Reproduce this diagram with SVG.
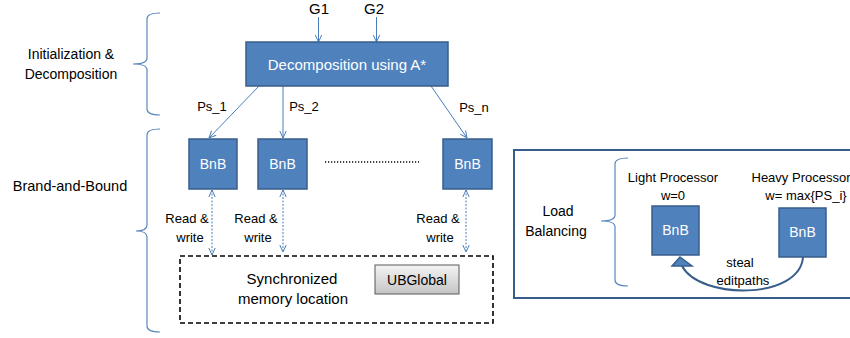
<svg xmlns="http://www.w3.org/2000/svg" width="850" height="338" viewBox="0 0 850 338">
<style>
.t{font-family:"Liberation Sans",Arial,sans-serif;fill:#000;}
.w{font-family:"Liberation Sans",Arial,sans-serif;fill:#fff;}
.box{fill:#4f81bd;stroke:#385d8a;stroke-width:1.5;}
.con{fill:none;stroke:#4a7ebb;stroke-width:1;}
.rw{fill:none;stroke:#4a7ebb;stroke-width:1;stroke-dasharray:2,1.5;}
.brace{fill:none;stroke:#5b87c0;stroke-width:1.2;}
</style>
<defs>
<marker id="v" viewBox="0 0 8 8" refX="7.5" refY="4" markerWidth="8" markerHeight="8" markerUnits="userSpaceOnUse" orient="auto-start-reverse">
<path d="M0.5,0.8 L7.5,4 L0.5,7.2" fill="none" stroke="#4a7ebb" stroke-width="1"/>
</marker>
<linearGradient id="gray" x1="0" y1="0" x2="0" y2="1">
<stop offset="0" stop-color="#f4f4f4"/>
<stop offset="1" stop-color="#c4c4c4"/>
</linearGradient>
</defs>
<rect width="850" height="338" fill="#fff"/>

<g id="braces">
<path class="brace" d="M160,13 Q147,13 147,19 L147,58 Q147,64 133,64 Q147,64 147,70 L147,109 Q147,115 160,115"/>
<path class="brace" d="M160,129 Q147,129 147,135 L147,225 Q147,231 136,231 Q147,231 147,237 L147,326 Q147,332 160,332"/>
</g>
<g id="stage-labels">
<text class="t" x="71" y="59" font-size="14" text-anchor="middle">Initialization &amp;</text>
<text class="t" x="71" y="79" font-size="14" text-anchor="middle">Decomposition</text>
<text class="t" x="70" y="191" font-size="14.5" text-anchor="middle">Brand-and-Bound</text>
</g>

<g id="connectors">
<line class="con" x1="318.5" y1="17" x2="318.5" y2="42" marker-end="url(#v)"/>
<line class="con" x1="376.5" y1="17" x2="376.5" y2="42" marker-end="url(#v)"/>
<line class="con" x1="259" y1="86" x2="209" y2="138" marker-end="url(#v)"/>
<line class="con" x1="283" y1="86" x2="283" y2="138" marker-end="url(#v)"/>
<line class="con" x1="431" y1="86" x2="467" y2="138" marker-end="url(#v)"/>
<line class="rw" x1="212" y1="190" x2="212" y2="255" marker-start="url(#v)" marker-end="url(#v)"/>
<line class="rw" x1="283" y1="190" x2="283" y2="252" marker-start="url(#v)" marker-end="url(#v)"/>
<line class="rw" x1="466" y1="190" x2="466" y2="252" marker-start="url(#v)" marker-end="url(#v)"/>
<line x1="325" y1="162" x2="419" y2="162" stroke="#000" stroke-width="1.3" stroke-dasharray="1.2,1.8"/>
<path d="M803,257 C800,300 700,300 682,266" fill="none" stroke="#385d8a" stroke-width="2"/>
<polygon points="680,257 692,266 672,266" fill="#4f81bd" stroke="#385d8a" stroke-width="1.5"/>
</g>

<g id="g-labels">
<text class="t" x="319" y="14" font-size="15" text-anchor="middle">G1</text>
<text class="t" x="374" y="14" font-size="15" text-anchor="middle">G2</text>
<text class="t" x="212" y="111" font-size="13" text-anchor="middle">Ps_1</text>
<text class="t" x="304" y="111" font-size="13" text-anchor="middle">Ps_2</text>
<text class="t" x="474" y="112" font-size="13" text-anchor="middle">Ps_n</text>
</g>

<g id="decomposition">
<rect class="box" x="246" y="42" width="202" height="44"/>
<text class="w" x="347" y="70" font-size="15" text-anchor="middle">Decomposition using A*</text>
</g>

<g id="bnb1">
<rect class="box" x="189" y="139" width="48" height="50"/>
<text class="w" x="213" y="169" font-size="14" text-anchor="middle">BnB</text>
</g>
<g id="bnb2">
<rect class="box" x="258" y="139" width="49" height="50"/>
<text class="w" x="282.5" y="169" font-size="14" text-anchor="middle">BnB</text>
</g>
<g id="bnbn">
<rect class="box" x="443" y="139" width="49" height="50"/>
<text class="w" x="467.5" y="169" font-size="14" text-anchor="middle">BnB</text>
</g>

<g id="rw-labels">
<text class="t" font-size="13" text-anchor="middle"><tspan x="187" y="223">Read &amp;</tspan><tspan x="190" y="242">write</tspan></text>
<text class="t" font-size="13" text-anchor="middle"><tspan x="256" y="223">Read &amp;</tspan><tspan x="258" y="242">write</tspan></text>
<text class="t" font-size="13" text-anchor="middle"><tspan x="438" y="223">Read &amp;</tspan><tspan x="440" y="242">write</tspan></text>
</g>

<g id="memory">
<rect x="180" y="256" width="313" height="67" fill="none" stroke="#000" stroke-width="1.6" stroke-dasharray="5,3"/>
<text class="t" x="292" y="284" font-size="15" text-anchor="middle">Synchronized</text>
<text class="t" x="293" y="304" font-size="15" text-anchor="middle">memory location</text>
</g>
<g id="ubglobal">
<rect x="375" y="265" width="84" height="29" fill="url(#gray)" stroke="#595959" stroke-width="1"/>
<text class="t" x="417" y="285" font-size="14" text-anchor="middle">UBGlobal</text>
</g>

<g id="load-balancing">
<rect x="514" y="150" width="340" height="148" fill="none" stroke="#385d8a" stroke-width="2"/>
<path class="brace" d="M628,158 Q615,158 615,164 L615,215 Q615,221 601,221 Q615,221 615,227 L615,280 Q615,286 628,286"/>
<text class="t" x="558" y="216" font-size="14" text-anchor="middle">Load</text>
<text class="t" x="556" y="236" font-size="14" text-anchor="middle">Balancing</text>
<text class="t" x="673" y="182" font-size="13" text-anchor="middle">Light Processor</text>
<text class="t" x="673" y="200" font-size="13" text-anchor="middle">w=0</text>
<text class="t" x="801" y="182" font-size="13" text-anchor="middle">Heavy Processor</text>
<text class="t" x="806" y="200" font-size="13" text-anchor="middle">w= max{PS_i}</text>
<text class="t" x="740" y="267" font-size="13" text-anchor="middle">steal</text>
<text class="t" x="743" y="285" font-size="13" text-anchor="middle">editpaths</text>
</g>
<g id="light-bnb">
<rect class="box" x="652" y="206" width="47" height="49"/>
<text class="w" x="675.5" y="235" font-size="14" text-anchor="middle">BnB</text>
</g>
<g id="heavy-bnb">
<rect class="box" x="779" y="208" width="47" height="49"/>
<text class="w" x="802.5" y="237" font-size="14" text-anchor="middle">BnB</text>
</g>
</svg>
